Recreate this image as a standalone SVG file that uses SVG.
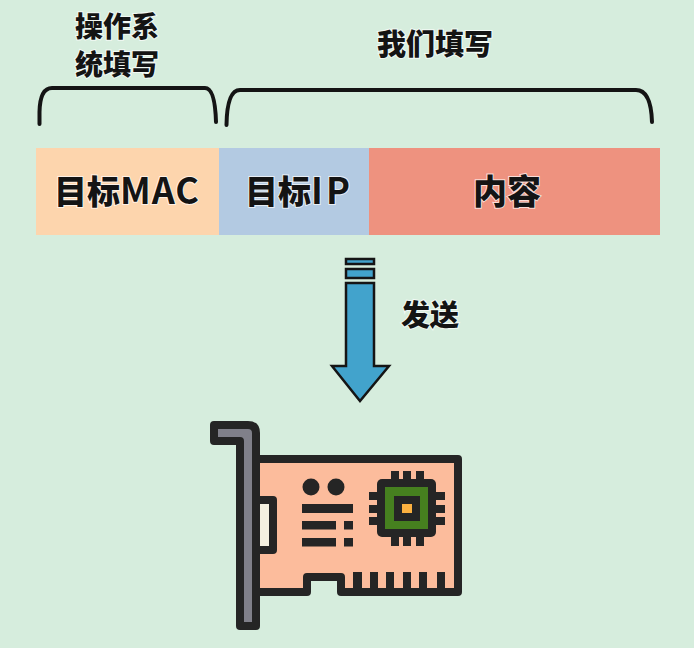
<svg xmlns="http://www.w3.org/2000/svg" width="694" height="648" viewBox="0 0 694 648">
<style>
.t{font-family:"Noto Sans CJK SC","Liberation Sans",sans-serif;font-weight:900;fill:#141414;stroke:#fff;stroke-width:2;stroke-opacity:.7;paint-order:stroke;text-anchor:middle}
.b{fill:none;stroke:#141414;stroke-width:4;stroke-linecap:round}
.k{fill:#252525}
.o{stroke:#252525;stroke-width:8;stroke-linejoin:round}
.a{stroke:#151515;stroke-width:2.5;fill:#42a3cc}
</style>
<rect width="694" height="648" fill="#d6eddd"/>
<g id="label-os"><text class="t" x="117" y="37" font-size="28">操作系</text><text class="t" x="117" y="75" font-size="28">统填写</text></g>
<g id="label-we"><text class="t" x="435" y="55" font-size="29">我们填写</text></g>
<g id="braces">
<path class="b" d="M39.500 124V112Q40 88 52 88H205Q215 88 216 122"/>
<path class="b" d="M226.500 125Q227 90 240 90H636Q651 90 652 122"/>
</g>
<g id="cell-mac"><rect x="36" y="148" width="183" height="87" fill="#fdd5ad"/><text class="t" x="127" y="204" font-size="33">目标<tspan font-size="36" font-weight="700" letter-spacing="1">MAC</tspan></text></g>
<g id="cell-ip"><rect x="219" y="148" width="150" height="87" fill="#b3cae2"/><text class="t" x="299" y="204" font-size="33">目标<tspan font-size="36" font-weight="700" letter-spacing="3">IP</tspan></text></g>
<g id="cell-content"><rect x="369" y="148" width="291" height="87" fill="#ee927f"/><text class="t" x="507" y="204" font-size="34">内容</text></g>
<g id="arrow">
<rect class="a" x="346" y="259" width="28" height="5"/>
<rect class="a" x="346" y="269" width="28" height="9"/>
<path class="a" d="M346 283H374V366H389L360 401L332 366H346Z"/>
</g>
<g id="label-send"><text class="t" x="430" y="326" font-size="29">发送</text></g>
<g id="network-card">
<path class="o" fill="#fcbc9c" d="M256 459H458V592H341V577H307V592H256Z"/>
<path class="o" fill="#f4f0e0" d="M256 500H273V550H256Z"/>
<path class="o" fill="#80808a" d="M214 425H248Q256 425 256 433V626H240V441H214Z"/>
<g class="k">
<circle cx="311" cy="487" r="8.500"/><circle cx="336" cy="487" r="8.500"/>
<rect x="302" y="504" width="51" height="9"/>
<rect x="302" y="521" width="34" height="8.500"/><rect x="344" y="521" width="9" height="8.500"/>
<rect x="302" y="538" width="34" height="8.500"/><rect x="344" y="538" width="9" height="8.500"/>
<rect x="391" y="471" width="8" height="12"/><rect x="403" y="471" width="8" height="12"/><rect x="416" y="471" width="8" height="12"/>
<rect x="391" y="534" width="8" height="12"/><rect x="403" y="534" width="8" height="12"/><rect x="416" y="534" width="8" height="12"/>
<rect x="369" y="492" width="12" height="8"/><rect x="369" y="505" width="12" height="8"/><rect x="369" y="517" width="12" height="8"/>
<rect x="433" y="492" width="12" height="8"/><rect x="433" y="505" width="12" height="8"/><rect x="433" y="517" width="12" height="8"/>
<rect x="377" y="479" width="59" height="58" rx="5"/>
<rect x="353" y="572" width="9" height="18"/><rect x="370" y="572" width="8" height="18"/><rect x="386" y="572" width="8" height="18"/><rect x="403" y="572" width="8" height="18"/><rect x="419" y="572" width="8" height="18"/><rect x="437" y="572" width="8" height="18"/>
</g>
<rect x="385" y="487" width="43" height="42" fill="#46801f"/>
<rect x="394" y="496" width="26" height="25" fill="#252525"/>
<rect x="402" y="504" width="10" height="9" fill="#fbb040"/>
</g>
</svg>
